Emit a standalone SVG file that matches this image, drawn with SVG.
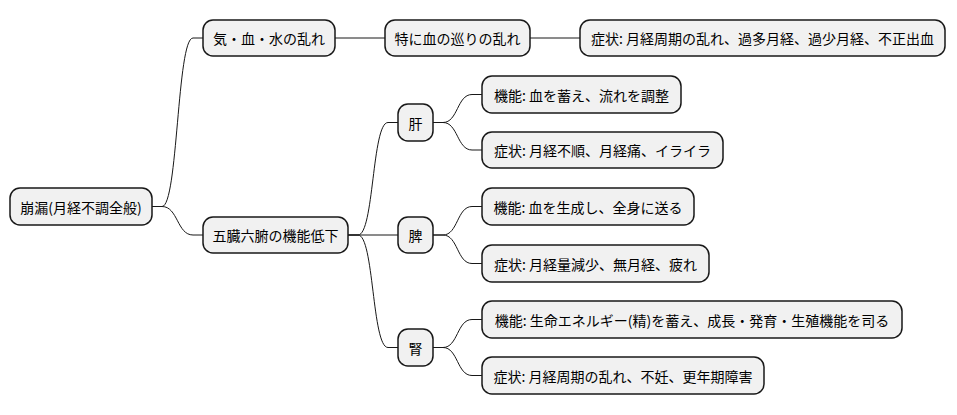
<svg xmlns="http://www.w3.org/2000/svg" width="957" height="415" viewBox="0 0 957 415">
<style>
.n rect{fill:#f1f1f1;stroke:#181818;stroke-width:1.5}
.n text{font-family:"Noto Sans CJK JP","Noto Sans",sans-serif;font-size:14px;fill:#000;text-anchor:middle;dominant-baseline:central}
.c path{fill:none;stroke:#181818;stroke-width:1}
</style>
<rect width="957" height="415" fill="#fff"/>
<g class="c">
<path d="M152,206.5 L162,206.5 C178,206.5 177,38 193,38 L203,38"/>
<path d="M152,206.5 L162,206.5 C178,206.5 177,235 193,235 L203,235"/>
<path d="M335,38 L385,38"/>
<path d="M530,38 L580,38"/>
<path d="M348,235 L358,235 C374,235 372,122.5 388,122.5 L398,122.5"/>
<path d="M348,235 L398,235"/>
<path d="M348,235 L358,235 C374,235 372,347.5 388,347.5 L398,347.5"/>
<path d="M433,122.5 L443,122.5 C458,122.5 457,94.5 472,94.5 L482,94.5"/>
<path d="M433,122.5 L443,122.5 C458,122.5 457,150 472,150 L482,150"/>
<path d="M433,235 L443,235 C458,235 457,206.5 472,206.5 L482,206.5"/>
<path d="M433,235 L443,235 C458,235 457,263.5 472,263.5 L482,263.5"/>
<path d="M433,347.5 L443,347.5 C458,347.5 457,319.5 472,319.5 L482,319.5"/>
<path d="M433,347.5 L443,347.5 C458,347.5 457,375.5 472,375.5 L482,375.5"/>
</g>
<g id="root" class="n"><rect x="10" y="188" width="142" height="37" rx="10"/><text x="81" y="206.5">崩漏(月経不調全般)</text></g>
<g id="kiketsusui" class="n"><rect x="203" y="20" width="132" height="36" rx="10"/><text x="269" y="38">気・血・水の乱れ</text></g>
<g id="junkan" class="n"><rect x="385" y="20" width="145" height="36" rx="10"/><text x="457.5" y="38">特に血の巡りの乱れ</text></g>
<g id="shojo1" class="n"><rect x="580" y="20" width="365" height="36" rx="10"/><text x="762.5" y="38">症状: 月経周期の乱れ、過多月経、過少月経、不正出血</text></g>
<g id="gozo" class="n"><rect x="203" y="217" width="145" height="36" rx="10"/><text x="275.5" y="235">五臓六腑の機能低下</text></g>
<g id="kan" class="n"><rect x="398" y="104" width="35" height="37" rx="10"/><text x="415.5" y="122.5">肝</text></g>
<g id="hi" class="n"><rect x="398" y="217" width="35" height="36" rx="10"/><text x="415.5" y="235">脾</text></g>
<g id="jin" class="n"><rect x="398" y="329" width="35" height="37" rx="10"/><text x="415.5" y="347.5">腎</text></g>
<g id="kan_kino" class="n"><rect x="482" y="76" width="199" height="37" rx="10"/><text x="581.5" y="94.5">機能: 血を蓄え、流れを調整</text></g>
<g id="kan_shojo" class="n"><rect x="482" y="132" width="241" height="36" rx="10"/><text x="602.5" y="150">症状: 月経不順、月経痛、イライラ</text></g>
<g id="hi_kino" class="n"><rect x="482" y="188" width="212" height="37" rx="10"/><text x="588" y="206.5">機能: 血を生成し、全身に送る</text></g>
<g id="hi_shojo" class="n"><rect x="482" y="245" width="227" height="37" rx="10"/><text x="595.5" y="263.5">症状: 月経量減少、無月経、疲れ</text></g>
<g id="jin_kino" class="n"><rect x="482" y="301" width="420" height="37" rx="10"/><text x="692" y="319.5">機能: 生命エネルギー(精)を蓄え、成長・発育・生殖機能を司る</text></g>
<g id="jin_shojo" class="n"><rect x="482" y="357" width="282" height="37" rx="10"/><text x="623" y="375.5">症状: 月経周期の乱れ、不妊、更年期障害</text></g>
</svg>
